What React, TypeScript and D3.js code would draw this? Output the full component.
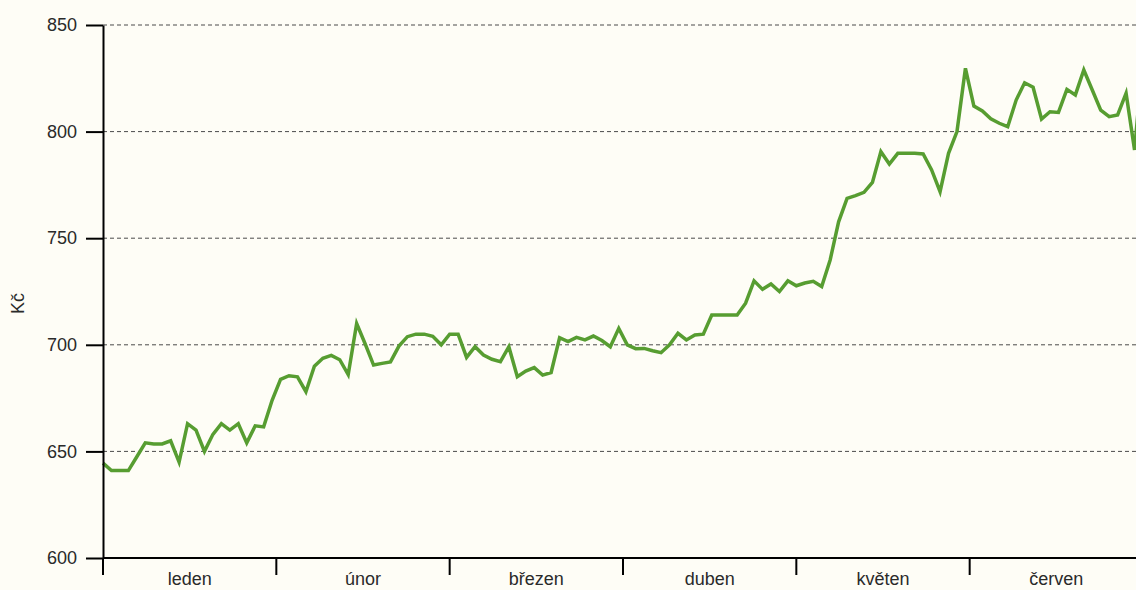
import React, { useEffect, useRef } from 'react';
import * as d3 from 'd3';

// month labels on the x axis
const MONTHS = ['leden', 'únor', 'březen', 'duben', 'květen', 'červen'];

// y axis ticks
const Y_TICKS = [600, 650, 700, 750, 800, 850];

// price per trading day, Jan - Jun (Kč)
const PRICES = [
  644.5, 641, 641, 641, 647.5, 654, 653.5, 653.5, 655, 645,
  663, 660, 650, 658, 663, 660, 663, 654, 662, 661.5,
  674, 683.8, 685.5, 685, 678, 690, 693.7, 695, 693, 686,
  710, 700.5, 690.5, 691.3, 692, 699.4, 703.8, 705, 705, 704,
  700, 705, 705, 694.1, 699.1, 695.2, 693.2, 692.1, 699.1, 685,
  687.7, 689.3, 685.8, 687, 703.3, 701.5, 703.5, 702.3, 704.1, 702,
  699.1, 707.7, 700, 698.2, 698.3, 697.2, 696.3, 700, 705.4, 702.3,
  704.6, 705, 714, 714, 714, 714, 719.5, 730, 726, 728.5,
  725, 730, 727.7, 729, 729.8, 727.3, 739.8, 757.7, 768.7, 770,
  771.5, 776.2, 790.6, 784.8, 789.8, 789.8, 789.8, 789.5, 782, 771.8,
  789.8, 800, 829.7, 812, 809.7, 806, 803.9, 802.3, 814.8, 822.9,
  820.8, 805.9, 809.3, 809, 819.8, 817.2, 828.9, 819.5, 810.1, 807,
  807.8, 818, 791.4, 835,
];

export default function App() {
  const svgRef = useRef<SVGSVGElement>(null);

  useEffect(() => {
    if (!svgRef.current) return;

    const W = 1136;
    const H = 590;
    const margin = { top: 25, left: 103 };
    const width = 1040; // runs past the window edge, svg clips it
    const height = 533;

    d3.select(svgRef.current).selectAll('*').remove();

    const svg = d3.select(svgRef.current)
      .attr('width', W)
      .attr('height', H)
      .style('background', '#fefdf6')
      .style('font-family', '"Liberation Sans", Arial, sans-serif');

    const g = svg.append('g')
      .attr('transform', `translate(${margin.left},${margin.top})`);

    const xIdx = d3.scaleLinear()
      .domain([0, PRICES.length - 1])
      .range([0, width]);

    const xMonth = d3.scaleBand()
      .domain(MONTHS)
      .range([0, width]);

    const y = d3.scaleLinear()
      .domain([600, 850])
      .range([height, 0]);

    // dashed grid
    g.append('g')
      .selectAll('line')
      .data(Y_TICKS.filter(t => t > 600))
      .enter()
      .append('line')
      .attr('x1', 0)
      .attr('x2', width)
      .attr('y1', d => y(d))
      .attr('y2', d => y(d))
      .attr('stroke', '#4a4a4a')
      .attr('stroke-width', 1)
      .attr('stroke-dasharray', '4,3');

    // line
    const line = d3.line<number>()
      .x((d, i) => xIdx(i))
      .y(d => y(d));

    g.append('path')
      .datum(PRICES)
      .attr('fill', 'none')
      .attr('stroke', '#579d31')
      .attr('stroke-width', 3.5)
      .attr('stroke-linejoin', 'miter')
      .attr('d', line);

    // y axis
    const yAxis = g.append('g')
      .call(d3.axisLeft(y).tickValues(Y_TICKS).tickSize(17).tickSizeOuter(0).tickPadding(9));
    yAxis.select('.domain').attr('stroke', '#000').attr('stroke-width', 2);
    yAxis.selectAll('.tick line').attr('stroke', '#000').attr('stroke-width', 2);
    yAxis.selectAll('.tick text')
      .attr('fill', '#2a2a2a')
      .style('font-size', '18px');

    // x axis, ticks at month boundaries
    const xAxis = g.append('g')
      .attr('transform', `translate(0,${height})`);
    xAxis.append('line')
      .attr('x1', 0)
      .attr('x2', width)
      .attr('stroke', '#000')
      .attr('stroke-width', 2);
    xAxis.selectAll('.mtick')
      .data(MONTHS)
      .enter()
      .append('line')
      .attr('class', 'mtick')
      .attr('x1', d => xMonth(d)!)
      .attr('x2', d => xMonth(d)!)
      .attr('y1', 0)
      .attr('y2', 17)
      .attr('stroke', '#000')
      .attr('stroke-width', 2);
    xAxis.selectAll('.mlabel')
      .data(MONTHS)
      .enter()
      .append('text')
      .attr('class', 'mlabel')
      .attr('x', d => xMonth(d)! + xMonth.bandwidth() / 2)
      .attr('y', 27)
      .attr('text-anchor', 'middle')
      .attr('fill', '#2a2a2a')
      .style('font-size', '18px')
      .text(d => d);

    // y label
    svg.append('text')
      .attr('transform', `translate(24,${margin.top + height / 2 + 12}) rotate(-90)`)
      .attr('text-anchor', 'middle')
      .attr('fill', '#2a2a2a')
      .style('font-size', '18px')
      .text('Kč');
  }, []);

  return (
    <div style={{ position: 'absolute', left: 0, top: 0, width: 1136, height: 590, overflow: 'hidden' }}>
      <svg ref={svgRef} style={{ display: 'block' }} />
    </div>
  );
}
